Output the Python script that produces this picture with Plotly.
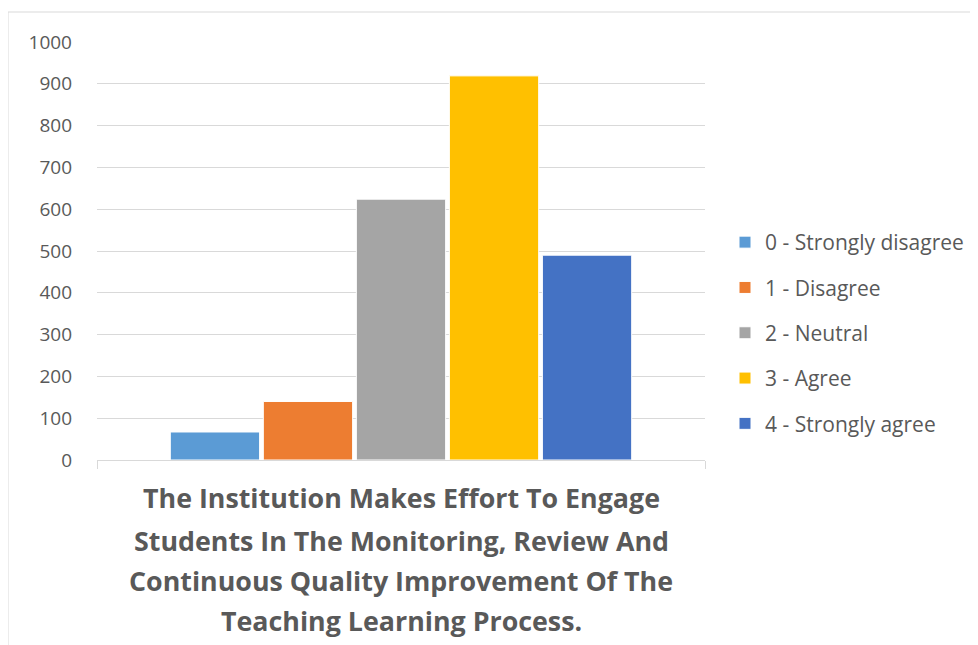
import plotly.graph_objects as go

categories = ["The Institution Makes Effort To Engage Students In The Monitoring, Review And Continuous Quality Improvement Of The Teaching Learning Process."]
series_names = ["0 - Strongly disagree", "1 - Disagree", "2 - Neutral", "3 - Agree", "4 - Strongly agree"]
series_values = [67, 140, 624, 919, 490]
series_colors = ["#5B9BD5", "#ED7D31", "#A5A5A5", "#FFC000", "#4472C4"]
title_lines = [
    "The Institution Makes Effort To Engage",
    "Students In The Monitoring, Review And",
    "Continuous Quality Improvement Of The",
    "Teaching Learning Process.",
]
y_ticks = [0, 100, 200, 300, 400, 500, 600, 700, 800, 900, 1000]

WIN_W, WIN_H = 978, 645
OFF = 8  # page body margin
L, R, T, B = 97, 705, 42, 460  # plot area in window pixels

fig = go.Figure()
for i, (name, val, col) in enumerate(zip(series_names, series_values, series_colors)):
    fig.add_trace(go.Bar(
        x=categories, y=[val], name=name,
        marker=dict(color=col, line=dict(color="white", width=1)),
        legendgroup=f"g{i}",
    ))

fig.update_layout(
    width=WIN_W - OFF, height=WIN_H - OFF,
    margin=dict(l=L - OFF, r=WIN_W - R, t=T - OFF, b=WIN_H - B, pad=0, autoexpand=False),
    paper_bgcolor="white", plot_bgcolor="white",
    barmode="group", bargap=0.235, bargroupgap=0.04,
    font=dict(family="Open Sans, Lato, sans-serif", color="#595959", size=19),
    showlegend=True,
    legend=dict(
        x=(725 - L) / (R - L), y=(B - 333) / (B - T), xanchor="left", yanchor="middle",
        font=dict(size=21, color="#595959"),
        tracegroupgap=15, itemwidth=30,
        bgcolor="rgba(0,0,0,0)",
    ),
)
fig.update_yaxes(
    range=[0, 1000], tickvals=y_ticks, showgrid=True, gridcolor="#D9D9D9", gridwidth=1,
    zeroline=False, showline=False, ticks="", ticklabelstandoff=24,
    tickfont=dict(size=19, color="#595959"),
)
fig.update_xaxes(
    showticklabels=False, showline=True, linecolor="#D9D9D9", linewidth=1,
    ticks="outside", tickson="boundaries", ticklen=8, tickcolor="#D9D9D9",
    showgrid=False,
)

line_y = [498, 540, 580, 620]
for txt, py in zip(title_lines, line_y):
    fig.add_annotation(
        x=0.5, y=(B - py) / (B - T), xref="paper", yref="paper",
        text=f"<b>{txt}</b>", showarrow=False, xanchor="center", yanchor="middle",
        font=dict(size=26.8, color="#595959", family="Open Sans, Lato, sans-serif"),
    )

fig.add_shape(
    type="rect", xref="paper", yref="paper",
    x0=(8 - L) / (R - L), x1=(985 - L) / (R - L),
    y0=(B - 660) / (B - T), y1=(B - 12) / (B - T),
    line=dict(color="#D9D9D9", width=1), fillcolor="rgba(0,0,0,0)", layer="below",
)

fig.write_html("out.html")
